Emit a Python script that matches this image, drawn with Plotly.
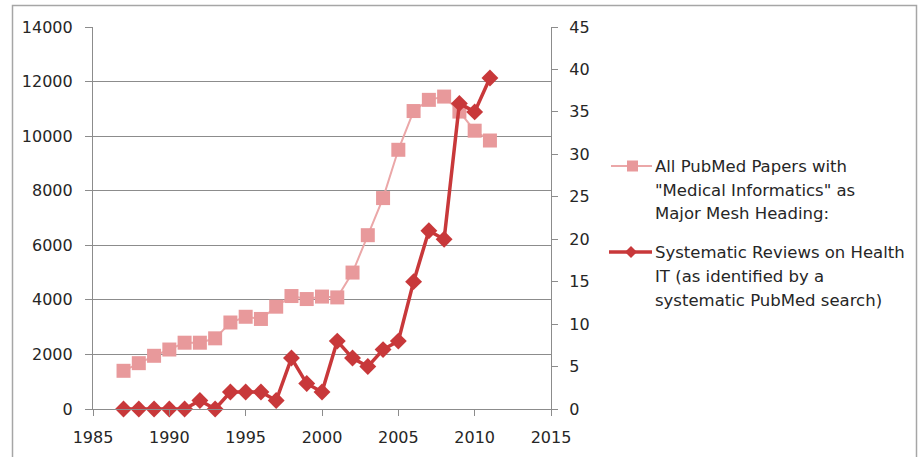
import plotly.graph_objects as go

years = list(range(1987, 2012))
pubmed_papers = [1400, 1680, 1950, 2180, 2430, 2430, 2590, 3170, 3380, 3300, 3750,
                 4140, 4030, 4120, 4090, 5000, 6370, 7730, 9500, 10920, 11330, 11450,
                 10900, 10200, 9840]
systematic_reviews = [0, 0, 0, 0, 0, 1, 0, 2, 2, 2, 1, 6, 3, 2, 8, 6, 5, 7, 8, 15,
                      21, 20, 36, 35, 39]

left_ticks = list(range(0, 14001, 2000))
right_ticks = list(range(0, 46, 5))
x_ticks = list(range(1985, 2016, 5))

legend_lines_1 = ["All PubMed Papers with", "\"Medical Informatics\" as", "Major Mesh Heading:"]
legend_lines_2 = ["Systematic Reviews on Health", "IT (as identified by a", "systematic PubMed search)"]

PINK = "#E8999B"
PINK_LINE = "#EBA7A8"
RED = "#C8383A"
GRID = "#8C8C8C"
FONT = "DejaVu Sans"
TXT = "#262626"

W, H = 922, 458
L, R, T, B = 93, 371, 27, 49
PW, PH = W - L - R, H - T - B


def px(x):
    return (x - L) / PW


def py(y):
    return (H - B - y) / PH


fig = go.Figure()
fig.add_trace(go.Scatter(
    x=years, y=pubmed_papers, mode="lines+markers", name="pubmed",
    line=dict(color=PINK_LINE, width=2),
    marker=dict(symbol="square", size=14, color=PINK),
    yaxis="y", showlegend=False, cliponaxis=False))
fig.add_trace(go.Scatter(
    x=years, y=systematic_reviews, mode="lines+markers", name="sr",
    line=dict(color=RED, width=3.5),
    marker=dict(symbol="diamond", size=13, color=RED),
    yaxis="y2", showlegend=False, cliponaxis=False))

axis_font = dict(family=FONT, size=16, color=TXT)

fig.update_layout(
    width=W, height=H,
    margin=dict(l=L, r=R, t=T, b=B),
    paper_bgcolor="white", plot_bgcolor="white",
    xaxis=dict(range=[1985, 2015], tickvals=x_ticks, tickformat="d", ticks="outside", ticklen=6,
               tickcolor=GRID, showgrid=False, zeroline=False, showline=True,
               linecolor=GRID, linewidth=1.2, tickfont=axis_font, ticklabelstandoff=8),
    yaxis=dict(range=[0, 14000], tickvals=left_ticks, tickformat="d", ticks="outside", ticklen=7,
               tickcolor=GRID, showgrid=True, gridcolor=GRID, gridwidth=1.2,
               zeroline=False, showline=True, linecolor=GRID, linewidth=1.2,
               tickfont=axis_font, ticklabelstandoff=9),
    yaxis2=dict(range=[0, 45], tickvals=right_ticks, tickformat="d", overlaying="y", side="right",
                ticks="outside", ticklen=6, tickcolor=GRID, showgrid=False,
                zeroline=False, showline=True, linecolor=GRID, linewidth=1.2,
                tickfont=axis_font, ticklabelstandoff=8),
)

shapes = []
# outer chart border
shapes.append(dict(type="path", xref="paper", yref="paper",
                   path=f"M {px(12.5)} {py(457)} L {px(12.5)} {py(5.5)} L {px(916.5)} {py(5.5)} L {px(916.5)} {py(457)}",
                   line=dict(color="#A6A6A6", width=1.5)))
# legend symbols
shapes.append(dict(type="line", xref="paper", yref="paper",
                   x0=px(611), x1=px(652), y0=py(166), y1=py(166),
                   line=dict(color=PINK_LINE, width=2)))
shapes.append(dict(type="rect", xref="paper", yref="paper",
                   x0=px(627), x1=px(638), y0=py(160.5), y1=py(171.5),
                   fillcolor=PINK, line=dict(width=0)))
shapes.append(dict(type="line", xref="paper", yref="paper",
                   x0=px(609), x1=px(652), y0=py(252), y1=py(252),
                   line=dict(color=RED, width=3.5)))
shapes.append(dict(type="path", xref="paper", yref="paper",
                   path=f"M {px(625)} {py(252)} L {px(631)} {py(246)} L {px(637)} {py(252)} L {px(631)} {py(258)} Z",
                   fillcolor=RED, line=dict(width=0)))
fig.update_layout(shapes=shapes)

annotations = []
for lines, ys in ((legend_lines_1, [166, 190, 213]), (legend_lines_2, [252, 276, 300])):
    for text, yv in zip(lines, ys):
        annotations.append(dict(xref="paper", yref="paper", x=px(653), y=py(yv),
                                xanchor="left", yanchor="middle", text=text,
                                showarrow=False,
                                font=dict(family=FONT, size=16.5, color=TXT)))
fig.update_layout(annotations=annotations)

fig.write_html("out.html", config={"displayModeBar": False},
               post_script="document.body.style.margin='0';")
